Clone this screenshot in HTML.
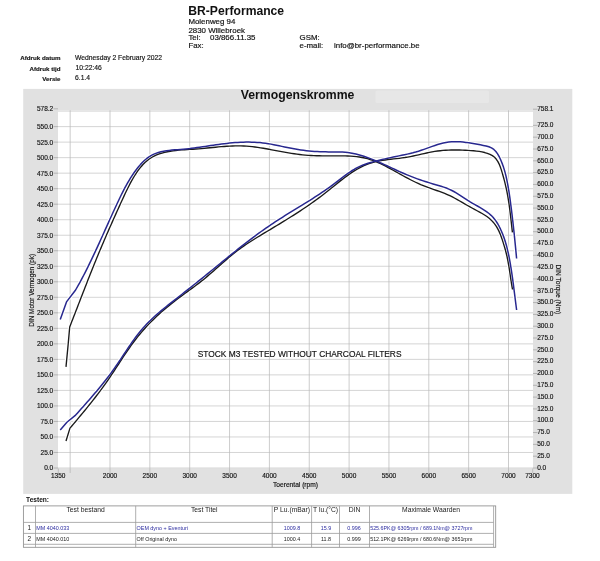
<!DOCTYPE html>
<html><head><meta charset="utf-8"><title>BR-Performance Vermogenskromme</title>
<style>
html,body{margin:0;padding:0;background:#fff;}
body{width:600px;height:561px;position:relative;overflow:hidden;font-family:"Liberation Sans",sans-serif;}
svg text{white-space:pre;}
</style></head><body>
<svg width="600" height="561" viewBox="0 0 600 561" style="position:absolute;left:0;top:0;filter:blur(0.4px)">
<rect x="23.2" y="88.9" width="549.1" height="405.0" fill="#e1e1e1"/>
<rect x="375.5" y="90.5" width="113.5" height="12.5" rx="1.5" fill="#e7e7e7"/>
<rect x="58.0" y="110.3" width="475.0" height="358.2" fill="#fff"/>
<path d="M70.16 110.3 V473.0 M110.00 110.3 V473.0 M149.85 110.3 V473.0 M189.70 110.3 V473.0 M229.56 110.3 V473.0 M269.40 110.3 V473.0 M309.25 110.3 V473.0 M349.10 110.3 V473.0 M388.95 110.3 V473.0 M428.80 110.3 V473.0 M468.65 110.3 V473.0 M508.50 110.3 V473.0" stroke="#a9a9a9" stroke-width="0.6" fill="none"/>
<path d="M58.0 468.00 H533.0 M58.0 452.48 H533.0 M58.0 436.96 H533.0 M58.0 421.45 H533.0 M58.0 405.93 H533.0 M58.0 390.41 H533.0 M58.0 374.89 H533.0 M58.0 359.38 H533.0 M58.0 343.86 H533.0 M58.0 328.34 H533.0 M58.0 312.82 H533.0 M58.0 297.31 H533.0 M58.0 281.79 H533.0 M58.0 266.27 H533.0 M58.0 250.75 H533.0 M58.0 235.24 H533.0 M58.0 219.72 H533.0 M58.0 204.20 H533.0 M58.0 188.69 H533.0 M58.0 173.17 H533.0 M58.0 157.65 H533.0 M58.0 142.13 H533.0 M58.0 126.62 H533.0 M58.0 111.10 H533.0" stroke="#b8b8b8" stroke-width="0.6" fill="none"/>
<path d="M53.5 468.00 H58.0 M53.5 452.48 H58.0 M53.5 436.96 H58.0 M53.5 421.45 H58.0 M53.5 405.93 H58.0 M53.5 390.41 H58.0 M53.5 374.89 H58.0 M53.5 359.38 H58.0 M53.5 343.86 H58.0 M53.5 328.34 H58.0 M53.5 312.82 H58.0 M53.5 297.31 H58.0 M53.5 281.79 H58.0 M53.5 266.27 H58.0 M53.5 250.75 H58.0 M53.5 235.24 H58.0 M53.5 219.72 H58.0 M53.5 204.20 H58.0 M53.5 188.69 H58.0 M53.5 173.17 H58.0 M53.5 157.65 H58.0 M53.5 142.13 H58.0 M53.5 126.62 H58.0 M53.5 108.80 H58.0" stroke="#a8a8a8" stroke-width="0.8" fill="none"/>
<path d="M58.3 468.5 V473.0 M532.7 468.5 V473.0" stroke="#bdbdbd" stroke-width="1" fill="none"/>
<path d="M533.0 468.00 h4.5 M533.0 456.19 h4.5 M533.0 444.37 h4.5 M533.0 432.56 h4.5 M533.0 420.74 h4.5 M533.0 408.93 h4.5 M533.0 397.11 h4.5 M533.0 385.30 h4.5 M533.0 373.48 h4.5 M533.0 361.66 h4.5 M533.0 349.85 h4.5 M533.0 338.03 h4.5 M533.0 326.22 h4.5 M533.0 314.40 h4.5 M533.0 302.59 h4.5 M533.0 290.77 h4.5 M533.0 278.96 h4.5 M533.0 267.14 h4.5 M533.0 255.33 h4.5 M533.0 243.51 h4.5 M533.0 231.70 h4.5 M533.0 219.88 h4.5 M533.0 208.07 h4.5 M533.0 196.25 h4.5 M533.0 184.44 h4.5 M533.0 172.62 h4.5 M533.0 160.81 h4.5 M533.0 149.00 h4.5 M533.0 137.18 h4.5 M533.0 125.37 h4.5 M533.0 109.20 h4.5" stroke="#a8a8a8" stroke-width="0.8" fill="none"/>
<g clip-path="none">
<path d="M66.00 366.90 L68.10 345.00 L69.72 326.89 L70.76 324.25 L71.79 321.61 L72.82 318.97 L73.85 316.33 L74.87 313.69 L75.90 311.05 L76.92 308.40 L77.94 305.76 L78.96 303.12 L79.99 300.48 L81.01 297.84 L82.03 295.20 L83.06 292.56 L84.09 289.92 L85.11 287.28 L86.14 284.65 L87.18 282.01 L88.21 279.37 L89.25 276.74 L90.30 274.11 L91.34 271.48 L92.40 268.85 L93.45 266.22 L94.51 263.59 L95.58 260.97 L96.65 258.35 L97.73 255.73 L98.82 253.11 L99.91 250.49 L101.01 247.88 L102.11 245.26 L103.22 242.66 L104.34 240.05 L105.46 237.44 L106.59 234.84 L107.72 232.24 L108.86 229.64 L110.00 227.05 L111.15 224.45 L112.30 221.86 L113.45 219.28 L114.61 216.69 L115.77 214.11 L116.93 211.53 L118.10 208.95 L119.27 206.38 L120.44 203.80 L121.62 201.24 L122.80 198.67 L123.98 196.11 L125.17 193.55 L126.39 191.00 L127.63 188.46 L128.90 185.94 L130.21 183.43 L131.57 180.94 L132.98 178.46 L134.46 176.01 L136.00 173.59 L137.61 171.22 L139.31 168.91 L141.10 166.69 L142.98 164.56 L144.96 162.56 L147.06 160.70 L149.27 159.00 L151.60 157.47 L154.07 156.12 L156.63 154.95 L159.27 153.95 L161.97 153.08 L164.70 152.35 L167.46 151.74 L170.24 151.23 L173.04 150.81 L175.85 150.46 L178.68 150.18 L181.51 149.95 L184.36 149.75 L187.21 149.57 L190.06 149.41 L192.91 149.23 L195.76 149.04 L198.61 148.82 L201.45 148.57 L204.29 148.31 L207.12 148.04 L209.94 147.76 L212.77 147.48 L215.59 147.21 L218.41 146.95 L221.23 146.70 L224.04 146.48 L226.85 146.28 L229.66 146.12 L232.47 145.99 L235.28 145.91 L238.09 145.88 L240.90 145.90 L243.71 145.98 L246.52 146.14 L249.33 146.36 L252.14 146.64 L254.95 146.98 L257.76 147.37 L260.57 147.80 L263.38 148.26 L266.19 148.75 L268.99 149.27 L271.79 149.79 L274.59 150.32 L277.39 150.86 L280.19 151.38 L282.98 151.90 L285.78 152.41 L288.57 152.89 L291.36 153.35 L294.16 153.78 L296.95 154.18 L299.74 154.53 L302.54 154.84 L305.34 155.10 L308.13 155.31 L310.94 155.48 L313.74 155.61 L316.55 155.71 L319.37 155.78 L322.19 155.83 L325.02 155.86 L327.85 155.87 L330.70 155.88 L333.55 155.87 L336.42 155.87 L339.29 155.87 L342.17 155.89 L345.04 155.94 L347.92 156.03 L350.78 156.17 L353.63 156.37 L356.46 156.65 L359.26 157.01 L362.05 157.47 L364.80 158.03 L367.51 158.71 L370.19 159.52 L372.84 160.43 L375.45 161.43 L378.04 162.53 L380.60 163.70 L383.14 164.93 L385.66 166.21 L388.17 167.54 L390.66 168.89 L393.15 170.26 L395.62 171.64 L398.10 173.02 L400.57 174.39 L403.04 175.76 L405.52 177.11 L408.02 178.44 L410.52 179.74 L413.04 181.01 L415.57 182.25 L418.13 183.44 L420.72 184.58 L423.33 185.66 L425.97 186.69 L428.64 187.67 L431.33 188.62 L434.02 189.55 L436.71 190.49 L439.39 191.43 L442.05 192.41 L444.69 193.44 L447.29 194.53 L449.85 195.70 L452.37 196.95 L454.84 198.26 L457.30 199.63 L459.74 201.02 L462.18 202.43 L464.62 203.84 L467.08 205.24 L469.55 206.63 L472.03 208.01 L474.54 209.38 L477.07 210.74 L479.60 212.11 L482.11 213.52 L484.57 214.99 L486.94 216.56 L489.18 218.27 L491.27 220.14 L493.19 222.16 L494.94 224.33 L496.51 226.64 L497.91 229.08 L499.16 231.62 L500.28 234.24 L501.30 236.92 L502.23 239.64 L503.11 242.37 L503.95 245.09 L504.76 247.81 L505.52 250.52 L506.23 253.25 L506.89 255.98 L507.48 258.74 L508.03 261.51 L508.53 264.29 L508.99 267.09 L509.43 269.89 L509.85 272.70 L510.27 275.51 L510.68 278.32 L511.10 281.13 L511.54 283.93 L512.00 286.72 L512.50 289.50" fill="none" stroke="#fff" stroke-width="3.6" stroke-linejoin="round" stroke-linecap="butt"/>
<path d="M66.00 441.00 L69.98 428.11 L71.80 425.98 L73.60 423.84 L75.41 421.70 L77.21 419.57 L79.00 417.43 L80.79 415.29 L82.57 413.14 L84.35 411.00 L86.11 408.84 L87.86 406.69 L89.61 404.52 L91.34 402.35 L93.07 400.17 L94.78 397.98 L96.48 395.78 L98.16 393.57 L99.84 391.35 L101.50 389.12 L103.14 386.88 L104.77 384.62 L106.38 382.35 L107.97 380.07 L109.55 377.77 L111.11 375.45 L112.66 373.13 L114.20 370.79 L115.73 368.45 L117.26 366.11 L118.79 363.77 L120.32 361.42 L121.86 359.08 L123.40 356.75 L124.95 354.42 L126.51 352.10 L128.09 349.80 L129.68 347.51 L131.30 345.23 L132.94 342.98 L134.60 340.75 L136.30 338.55 L138.02 336.37 L139.78 334.22 L141.57 332.09 L143.39 330.00 L145.25 327.93 L147.13 325.89 L149.05 323.88 L150.99 321.89 L152.96 319.93 L154.95 318.00 L156.97 316.09 L159.02 314.20 L161.09 312.34 L163.18 310.51 L165.29 308.69 L167.43 306.90 L169.59 305.13 L171.76 303.39 L173.96 301.67 L176.17 299.97 L178.39 298.28 L180.63 296.62 L182.88 294.96 L185.14 293.31 L187.39 291.67 L189.65 290.02 L191.90 288.37 L194.14 286.71 L196.37 285.04 L198.59 283.36 L200.79 281.65 L202.97 279.92 L205.13 278.16 L207.27 276.37 L209.38 274.57 L211.49 272.75 L213.58 270.92 L215.67 269.07 L217.75 267.23 L219.83 265.38 L221.91 263.54 L224.00 261.70 L226.10 259.87 L228.22 258.06 L230.35 256.27 L232.50 254.51 L234.67 252.77 L236.87 251.06 L239.10 249.39 L241.35 247.75 L243.64 246.14 L245.95 244.56 L248.27 243.01 L250.62 241.49 L252.98 239.98 L255.36 238.49 L257.74 237.02 L260.13 235.56 L262.52 234.11 L264.92 232.67 L267.31 231.23 L269.70 229.80 L272.09 228.36 L274.47 226.93 L276.85 225.49 L279.22 224.05 L281.59 222.61 L283.95 221.17 L286.30 219.71 L288.66 218.25 L291.00 216.79 L293.34 215.31 L295.67 213.82 L298.00 212.32 L300.31 210.81 L302.62 209.29 L304.93 207.75 L307.22 206.19 L309.51 204.62 L311.79 203.03 L314.05 201.41 L316.31 199.78 L318.56 198.13 L320.81 196.45 L323.04 194.75 L325.26 193.02 L327.47 191.27 L329.67 189.50 L331.87 187.72 L334.07 185.94 L336.27 184.16 L338.48 182.40 L340.70 180.65 L342.92 178.93 L345.16 177.23 L347.42 175.58 L349.69 173.98 L351.99 172.43 L354.32 170.93 L356.67 169.51 L359.06 168.16 L361.48 166.90 L363.93 165.72 L366.43 164.64 L368.97 163.66 L371.56 162.79 L374.19 162.04 L376.88 161.40 L379.60 160.85 L382.35 160.37 L385.14 159.96 L387.94 159.60 L390.76 159.27 L393.59 158.95 L396.42 158.63 L399.25 158.30 L402.06 157.94 L404.87 157.53 L407.65 157.06 L410.41 156.54 L413.16 155.98 L415.89 155.39 L418.61 154.79 L421.32 154.17 L424.02 153.57 L426.72 152.98 L429.42 152.42 L432.12 151.91 L434.82 151.44 L437.53 151.04 L440.25 150.71 L442.98 150.45 L445.71 150.25 L448.45 150.10 L451.20 150.01 L453.97 149.97 L456.74 149.98 L459.52 150.02 L462.31 150.11 L465.11 150.23 L467.92 150.39 L470.75 150.56 L473.58 150.78 L476.40 151.05 L479.21 151.42 L481.98 151.90 L484.71 152.53 L487.38 153.34 L489.97 154.36 L492.39 155.64 L494.55 157.27 L496.37 159.28 L497.90 161.58 L499.17 164.09 L500.24 166.71 L501.16 169.39 L501.99 172.10 L502.78 174.80 L503.54 177.49 L504.26 180.17 L504.95 182.86 L505.59 185.55 L506.20 188.26 L506.77 190.97 L507.30 193.70 L507.79 196.44 L508.26 199.19 L508.69 201.94 L509.10 204.70 L509.48 207.47 L509.84 210.24 L510.19 213.02 L510.53 215.79 L510.85 218.57 L511.17 221.34 L511.48 224.11 L511.79 226.87 L512.10 229.64 L512.42 232.39" fill="none" stroke="#fff" stroke-width="3.6" stroke-linejoin="round" stroke-linecap="butt"/>
<path d="M60.25 319.40 L66.50 301.90 L75.60 290.00 L78.48 284.95 L79.81 282.55 L81.12 280.13 L82.41 277.70 L83.69 275.26 L84.95 272.81 L86.20 270.35 L87.44 267.88 L88.67 265.41 L89.88 262.92 L91.09 260.43 L92.28 257.93 L93.47 255.42 L94.65 252.91 L95.82 250.39 L96.99 247.87 L98.14 245.35 L99.30 242.82 L100.45 240.29 L101.59 237.76 L102.73 235.23 L103.88 232.70 L105.01 230.16 L106.15 227.63 L107.29 225.10 L108.43 222.57 L109.57 220.04 L110.71 217.52 L111.86 215.00 L113.00 212.48 L114.16 209.97 L115.32 207.46 L116.48 204.96 L117.65 202.47 L118.83 199.99 L120.01 197.51 L121.21 195.04 L122.43 192.59 L123.67 190.14 L124.95 187.71 L126.25 185.30 L127.59 182.91 L128.98 180.53 L130.42 178.18 L131.92 175.85 L133.47 173.54 L135.09 171.26 L136.78 169.01 L138.55 166.79 L140.39 164.62 L142.32 162.53 L144.34 160.55 L146.45 158.71 L148.65 157.06 L150.94 155.61 L153.33 154.37 L155.81 153.34 L158.37 152.49 L160.99 151.79 L163.66 151.22 L166.39 150.77 L169.15 150.41 L171.94 150.11 L174.75 149.87 L177.57 149.65 L180.39 149.43 L183.20 149.19 L185.99 148.93 L188.77 148.63 L191.53 148.30 L194.28 147.95 L197.02 147.59 L199.75 147.21 L202.47 146.81 L205.19 146.41 L207.90 146.01 L210.60 145.60 L213.31 145.20 L216.01 144.81 L218.72 144.43 L221.43 144.07 L224.14 143.72 L226.87 143.40 L229.59 143.10 L232.33 142.84 L235.08 142.61 L237.84 142.42 L240.60 142.27 L243.37 142.16 L246.14 142.10 L248.92 142.09 L251.70 142.14 L254.47 142.23 L257.24 142.39 L260.01 142.61 L262.76 142.89 L265.51 143.24 L268.25 143.66 L270.98 144.13 L273.71 144.65 L276.42 145.20 L279.13 145.78 L281.84 146.37 L284.55 146.95 L287.26 147.53 L289.97 148.08 L292.68 148.61 L295.39 149.10 L298.11 149.55 L300.83 149.96 L303.56 150.34 L306.29 150.68 L309.03 150.98 L311.78 151.24 L314.53 151.45 L317.29 151.62 L320.06 151.75 L322.84 151.83 L325.63 151.87 L328.43 151.88 L331.22 151.88 L334.02 151.89 L336.81 151.92 L339.59 151.99 L342.36 152.12 L345.12 152.32 L347.86 152.60 L350.57 153.00 L353.27 153.48 L355.94 154.06 L358.60 154.73 L361.24 155.47 L363.87 156.29 L366.48 157.17 L369.07 158.11 L371.65 159.10 L374.22 160.14 L376.79 161.22 L379.34 162.33 L381.88 163.46 L384.42 164.62 L386.95 165.79 L389.48 166.96 L392.00 168.14 L394.52 169.30 L397.04 170.46 L399.56 171.60 L402.09 172.71 L404.61 173.79 L407.14 174.86 L409.68 175.89 L412.22 176.90 L414.78 177.88 L417.35 178.83 L419.93 179.75 L422.52 180.65 L425.14 181.51 L427.77 182.34 L430.42 183.14 L433.09 183.91 L435.77 184.68 L438.44 185.46 L441.10 186.27 L443.74 187.13 L446.34 188.07 L448.89 189.10 L451.38 190.24 L453.81 191.51 L456.19 192.88 L458.53 194.33 L460.85 195.84 L463.15 197.37 L465.46 198.91 L467.78 200.42 L470.14 201.89 L472.54 203.29 L474.96 204.66 L477.39 206.01 L479.82 207.38 L482.21 208.79 L484.55 210.27 L486.83 211.85 L489.01 213.53 L491.08 215.34 L493.01 217.29 L494.77 219.40 L496.37 221.65 L497.84 224.01 L499.18 226.46 L500.42 228.95 L501.57 231.47 L502.63 234.03 L503.61 236.61 L504.52 239.21 L505.36 241.84 L506.14 244.49 L506.86 247.16 L507.52 249.85 L508.14 252.54 L508.71 255.25 L509.25 257.97 L509.76 260.69 L510.25 263.42 L510.71 266.14 L511.15 268.88 L511.57 271.61 L511.98 274.34 L512.37 277.08 L512.75 279.82 L513.12 282.56 L513.48 285.30 L513.83 288.04 L514.18 290.78 L514.52 293.53 L514.87 296.27 L515.21 299.02 L515.56 301.76 L515.91 304.51 L516.26 307.25 L516.63 310.00" fill="none" stroke="#fff" stroke-width="3.7" stroke-linejoin="round" stroke-linecap="butt"/>
<path d="M60.25 430.00 L66.90 422.25 L75.63 415.05 L77.57 412.89 L79.50 410.73 L81.43 408.57 L83.36 406.41 L85.28 404.24 L87.20 402.08 L89.10 399.91 L91.00 397.73 L92.89 395.55 L94.77 393.36 L96.63 391.16 L98.48 388.96 L100.32 386.74 L102.14 384.51 L103.94 382.26 L105.73 380.00 L107.50 377.72 L109.24 375.43 L110.97 373.11 L112.68 370.78 L114.36 368.43 L116.02 366.05 L117.66 363.66 L119.29 361.25 L120.90 358.83 L122.50 356.40 L124.11 353.97 L125.71 351.55 L127.32 349.13 L128.94 346.71 L130.58 344.32 L132.24 341.94 L133.92 339.58 L135.63 337.25 L137.37 334.95 L139.15 332.68 L140.97 330.46 L142.84 328.27 L144.76 326.13 L146.72 324.04 L148.73 321.99 L150.79 319.98 L152.88 318.01 L155.01 316.07 L157.17 314.16 L159.35 312.27 L161.56 310.41 L163.80 308.57 L166.04 306.75 L168.31 304.94 L170.58 303.14 L172.86 301.36 L175.14 299.57 L177.42 297.79 L179.70 296.00 L181.98 294.22 L184.25 292.43 L186.52 290.64 L188.78 288.85 L191.04 287.06 L193.30 285.26 L195.55 283.47 L197.81 281.66 L200.06 279.86 L202.31 278.05 L204.55 276.24 L206.79 274.43 L209.04 272.61 L211.27 270.79 L213.51 268.97 L215.75 267.14 L217.99 265.31 L220.23 263.49 L222.47 261.66 L224.71 259.83 L226.95 258.01 L229.19 256.19 L231.44 254.38 L233.69 252.56 L235.95 250.76 L238.21 248.96 L240.48 247.17 L242.75 245.38 L245.03 243.61 L247.31 241.84 L249.61 240.08 L251.91 238.34 L254.22 236.61 L256.54 234.89 L258.86 233.18 L261.20 231.49 L263.55 229.82 L265.91 228.16 L268.29 226.51 L270.67 224.89 L273.07 223.28 L275.48 221.70 L277.90 220.13 L280.34 218.57 L282.78 217.03 L285.23 215.49 L287.68 213.97 L290.14 212.45 L292.61 210.94 L295.07 209.43 L297.54 207.93 L300.01 206.42 L302.47 204.91 L304.93 203.39 L307.39 201.87 L309.84 200.34 L312.28 198.80 L314.72 197.24 L317.14 195.67 L319.56 194.09 L321.96 192.48 L324.34 190.86 L326.71 189.21 L329.07 187.54 L331.40 185.85 L333.72 184.12 L336.02 182.37 L338.31 180.60 L340.59 178.84 L342.88 177.08 L345.19 175.36 L347.52 173.68 L349.89 172.05 L352.30 170.50 L354.76 169.03 L357.28 167.66 L359.88 166.41 L362.54 165.27 L365.25 164.23 L368.02 163.29 L370.81 162.42 L373.63 161.62 L376.47 160.87 L379.30 160.17 L382.12 159.50 L384.93 158.86 L387.73 158.24 L390.53 157.63 L393.32 157.04 L396.12 156.46 L398.91 155.89 L401.71 155.32 L404.51 154.74 L407.31 154.13 L410.11 153.49 L412.90 152.80 L415.68 152.04 L418.46 151.21 L421.22 150.31 L423.97 149.36 L426.71 148.37 L429.45 147.38 L432.20 146.41 L434.94 145.47 L437.69 144.58 L440.44 143.78 L443.21 143.07 L445.99 142.49 L448.78 142.06 L451.60 141.78 L454.42 141.66 L457.27 141.67 L460.13 141.81 L462.99 142.05 L465.87 142.38 L468.76 142.78 L471.65 143.25 L474.55 143.76 L477.44 144.30 L480.34 144.85 L483.24 145.41 L486.11 146.00 L488.89 146.78 L491.49 147.90 L493.84 149.49 L495.88 151.50 L497.59 153.83 L499.04 156.37 L500.32 159.01 L501.48 161.68 L502.53 164.39 L503.48 167.12 L504.34 169.87 L505.12 172.64 L505.83 175.44 L506.48 178.25 L507.07 181.07 L507.62 183.90 L508.14 186.74 L508.62 189.59 L509.08 192.45 L509.51 195.31 L509.92 198.17 L510.31 201.04 L510.69 203.91 L511.06 206.78 L511.43 209.65 L511.78 212.51 L512.13 215.38 L512.46 218.25 L512.80 221.13 L513.12 224.00 L513.44 226.87 L513.75 229.74 L514.06 232.61 L514.36 235.49 L514.65 238.36 L514.94 241.23 L515.23 244.11 L515.51 246.99 L515.79 249.86 L516.06 252.74 L516.33 255.62 L516.60 258.50" fill="none" stroke="#fff" stroke-width="3.7" stroke-linejoin="round" stroke-linecap="butt"/>
<path d="M66.00 366.90 L68.10 345.00 L69.72 326.89 L70.76 324.25 L71.79 321.61 L72.82 318.97 L73.85 316.33 L74.87 313.69 L75.90 311.05 L76.92 308.40 L77.94 305.76 L78.96 303.12 L79.99 300.48 L81.01 297.84 L82.03 295.20 L83.06 292.56 L84.09 289.92 L85.11 287.28 L86.14 284.65 L87.18 282.01 L88.21 279.37 L89.25 276.74 L90.30 274.11 L91.34 271.48 L92.40 268.85 L93.45 266.22 L94.51 263.59 L95.58 260.97 L96.65 258.35 L97.73 255.73 L98.82 253.11 L99.91 250.49 L101.01 247.88 L102.11 245.26 L103.22 242.66 L104.34 240.05 L105.46 237.44 L106.59 234.84 L107.72 232.24 L108.86 229.64 L110.00 227.05 L111.15 224.45 L112.30 221.86 L113.45 219.28 L114.61 216.69 L115.77 214.11 L116.93 211.53 L118.10 208.95 L119.27 206.38 L120.44 203.80 L121.62 201.24 L122.80 198.67 L123.98 196.11 L125.17 193.55 L126.39 191.00 L127.63 188.46 L128.90 185.94 L130.21 183.43 L131.57 180.94 L132.98 178.46 L134.46 176.01 L136.00 173.59 L137.61 171.22 L139.31 168.91 L141.10 166.69 L142.98 164.56 L144.96 162.56 L147.06 160.70 L149.27 159.00 L151.60 157.47 L154.07 156.12 L156.63 154.95 L159.27 153.95 L161.97 153.08 L164.70 152.35 L167.46 151.74 L170.24 151.23 L173.04 150.81 L175.85 150.46 L178.68 150.18 L181.51 149.95 L184.36 149.75 L187.21 149.57 L190.06 149.41 L192.91 149.23 L195.76 149.04 L198.61 148.82 L201.45 148.57 L204.29 148.31 L207.12 148.04 L209.94 147.76 L212.77 147.48 L215.59 147.21 L218.41 146.95 L221.23 146.70 L224.04 146.48 L226.85 146.28 L229.66 146.12 L232.47 145.99 L235.28 145.91 L238.09 145.88 L240.90 145.90 L243.71 145.98 L246.52 146.14 L249.33 146.36 L252.14 146.64 L254.95 146.98 L257.76 147.37 L260.57 147.80 L263.38 148.26 L266.19 148.75 L268.99 149.27 L271.79 149.79 L274.59 150.32 L277.39 150.86 L280.19 151.38 L282.98 151.90 L285.78 152.41 L288.57 152.89 L291.36 153.35 L294.16 153.78 L296.95 154.18 L299.74 154.53 L302.54 154.84 L305.34 155.10 L308.13 155.31 L310.94 155.48 L313.74 155.61 L316.55 155.71 L319.37 155.78 L322.19 155.83 L325.02 155.86 L327.85 155.87 L330.70 155.88 L333.55 155.87 L336.42 155.87 L339.29 155.87 L342.17 155.89 L345.04 155.94 L347.92 156.03 L350.78 156.17 L353.63 156.37 L356.46 156.65 L359.26 157.01 L362.05 157.47 L364.80 158.03 L367.51 158.71 L370.19 159.52 L372.84 160.43 L375.45 161.43 L378.04 162.53 L380.60 163.70 L383.14 164.93 L385.66 166.21 L388.17 167.54 L390.66 168.89 L393.15 170.26 L395.62 171.64 L398.10 173.02 L400.57 174.39 L403.04 175.76 L405.52 177.11 L408.02 178.44 L410.52 179.74 L413.04 181.01 L415.57 182.25 L418.13 183.44 L420.72 184.58 L423.33 185.66 L425.97 186.69 L428.64 187.67 L431.33 188.62 L434.02 189.55 L436.71 190.49 L439.39 191.43 L442.05 192.41 L444.69 193.44 L447.29 194.53 L449.85 195.70 L452.37 196.95 L454.84 198.26 L457.30 199.63 L459.74 201.02 L462.18 202.43 L464.62 203.84 L467.08 205.24 L469.55 206.63 L472.03 208.01 L474.54 209.38 L477.07 210.74 L479.60 212.11 L482.11 213.52 L484.57 214.99 L486.94 216.56 L489.18 218.27 L491.27 220.14 L493.19 222.16 L494.94 224.33 L496.51 226.64 L497.91 229.08 L499.16 231.62 L500.28 234.24 L501.30 236.92 L502.23 239.64 L503.11 242.37 L503.95 245.09 L504.76 247.81 L505.52 250.52 L506.23 253.25 L506.89 255.98 L507.48 258.74 L508.03 261.51 L508.53 264.29 L508.99 267.09 L509.43 269.89 L509.85 272.70 L510.27 275.51 L510.68 278.32 L511.10 281.13 L511.54 283.93 L512.00 286.72 L512.50 289.50" fill="none" stroke="#1a1a1a" stroke-width="1.35" stroke-linejoin="round"/>
<path d="M66.00 441.00 L69.98 428.11 L71.80 425.98 L73.60 423.84 L75.41 421.70 L77.21 419.57 L79.00 417.43 L80.79 415.29 L82.57 413.14 L84.35 411.00 L86.11 408.84 L87.86 406.69 L89.61 404.52 L91.34 402.35 L93.07 400.17 L94.78 397.98 L96.48 395.78 L98.16 393.57 L99.84 391.35 L101.50 389.12 L103.14 386.88 L104.77 384.62 L106.38 382.35 L107.97 380.07 L109.55 377.77 L111.11 375.45 L112.66 373.13 L114.20 370.79 L115.73 368.45 L117.26 366.11 L118.79 363.77 L120.32 361.42 L121.86 359.08 L123.40 356.75 L124.95 354.42 L126.51 352.10 L128.09 349.80 L129.68 347.51 L131.30 345.23 L132.94 342.98 L134.60 340.75 L136.30 338.55 L138.02 336.37 L139.78 334.22 L141.57 332.09 L143.39 330.00 L145.25 327.93 L147.13 325.89 L149.05 323.88 L150.99 321.89 L152.96 319.93 L154.95 318.00 L156.97 316.09 L159.02 314.20 L161.09 312.34 L163.18 310.51 L165.29 308.69 L167.43 306.90 L169.59 305.13 L171.76 303.39 L173.96 301.67 L176.17 299.97 L178.39 298.28 L180.63 296.62 L182.88 294.96 L185.14 293.31 L187.39 291.67 L189.65 290.02 L191.90 288.37 L194.14 286.71 L196.37 285.04 L198.59 283.36 L200.79 281.65 L202.97 279.92 L205.13 278.16 L207.27 276.37 L209.38 274.57 L211.49 272.75 L213.58 270.92 L215.67 269.07 L217.75 267.23 L219.83 265.38 L221.91 263.54 L224.00 261.70 L226.10 259.87 L228.22 258.06 L230.35 256.27 L232.50 254.51 L234.67 252.77 L236.87 251.06 L239.10 249.39 L241.35 247.75 L243.64 246.14 L245.95 244.56 L248.27 243.01 L250.62 241.49 L252.98 239.98 L255.36 238.49 L257.74 237.02 L260.13 235.56 L262.52 234.11 L264.92 232.67 L267.31 231.23 L269.70 229.80 L272.09 228.36 L274.47 226.93 L276.85 225.49 L279.22 224.05 L281.59 222.61 L283.95 221.17 L286.30 219.71 L288.66 218.25 L291.00 216.79 L293.34 215.31 L295.67 213.82 L298.00 212.32 L300.31 210.81 L302.62 209.29 L304.93 207.75 L307.22 206.19 L309.51 204.62 L311.79 203.03 L314.05 201.41 L316.31 199.78 L318.56 198.13 L320.81 196.45 L323.04 194.75 L325.26 193.02 L327.47 191.27 L329.67 189.50 L331.87 187.72 L334.07 185.94 L336.27 184.16 L338.48 182.40 L340.70 180.65 L342.92 178.93 L345.16 177.23 L347.42 175.58 L349.69 173.98 L351.99 172.43 L354.32 170.93 L356.67 169.51 L359.06 168.16 L361.48 166.90 L363.93 165.72 L366.43 164.64 L368.97 163.66 L371.56 162.79 L374.19 162.04 L376.88 161.40 L379.60 160.85 L382.35 160.37 L385.14 159.96 L387.94 159.60 L390.76 159.27 L393.59 158.95 L396.42 158.63 L399.25 158.30 L402.06 157.94 L404.87 157.53 L407.65 157.06 L410.41 156.54 L413.16 155.98 L415.89 155.39 L418.61 154.79 L421.32 154.17 L424.02 153.57 L426.72 152.98 L429.42 152.42 L432.12 151.91 L434.82 151.44 L437.53 151.04 L440.25 150.71 L442.98 150.45 L445.71 150.25 L448.45 150.10 L451.20 150.01 L453.97 149.97 L456.74 149.98 L459.52 150.02 L462.31 150.11 L465.11 150.23 L467.92 150.39 L470.75 150.56 L473.58 150.78 L476.40 151.05 L479.21 151.42 L481.98 151.90 L484.71 152.53 L487.38 153.34 L489.97 154.36 L492.39 155.64 L494.55 157.27 L496.37 159.28 L497.90 161.58 L499.17 164.09 L500.24 166.71 L501.16 169.39 L501.99 172.10 L502.78 174.80 L503.54 177.49 L504.26 180.17 L504.95 182.86 L505.59 185.55 L506.20 188.26 L506.77 190.97 L507.30 193.70 L507.79 196.44 L508.26 199.19 L508.69 201.94 L509.10 204.70 L509.48 207.47 L509.84 210.24 L510.19 213.02 L510.53 215.79 L510.85 218.57 L511.17 221.34 L511.48 224.11 L511.79 226.87 L512.10 229.64 L512.42 232.39" fill="none" stroke="#1a1a1a" stroke-width="1.35" stroke-linejoin="round"/>
<path d="M60.25 319.40 L66.50 301.90 L75.60 290.00 L78.48 284.95 L79.81 282.55 L81.12 280.13 L82.41 277.70 L83.69 275.26 L84.95 272.81 L86.20 270.35 L87.44 267.88 L88.67 265.41 L89.88 262.92 L91.09 260.43 L92.28 257.93 L93.47 255.42 L94.65 252.91 L95.82 250.39 L96.99 247.87 L98.14 245.35 L99.30 242.82 L100.45 240.29 L101.59 237.76 L102.73 235.23 L103.88 232.70 L105.01 230.16 L106.15 227.63 L107.29 225.10 L108.43 222.57 L109.57 220.04 L110.71 217.52 L111.86 215.00 L113.00 212.48 L114.16 209.97 L115.32 207.46 L116.48 204.96 L117.65 202.47 L118.83 199.99 L120.01 197.51 L121.21 195.04 L122.43 192.59 L123.67 190.14 L124.95 187.71 L126.25 185.30 L127.59 182.91 L128.98 180.53 L130.42 178.18 L131.92 175.85 L133.47 173.54 L135.09 171.26 L136.78 169.01 L138.55 166.79 L140.39 164.62 L142.32 162.53 L144.34 160.55 L146.45 158.71 L148.65 157.06 L150.94 155.61 L153.33 154.37 L155.81 153.34 L158.37 152.49 L160.99 151.79 L163.66 151.22 L166.39 150.77 L169.15 150.41 L171.94 150.11 L174.75 149.87 L177.57 149.65 L180.39 149.43 L183.20 149.19 L185.99 148.93 L188.77 148.63 L191.53 148.30 L194.28 147.95 L197.02 147.59 L199.75 147.21 L202.47 146.81 L205.19 146.41 L207.90 146.01 L210.60 145.60 L213.31 145.20 L216.01 144.81 L218.72 144.43 L221.43 144.07 L224.14 143.72 L226.87 143.40 L229.59 143.10 L232.33 142.84 L235.08 142.61 L237.84 142.42 L240.60 142.27 L243.37 142.16 L246.14 142.10 L248.92 142.09 L251.70 142.14 L254.47 142.23 L257.24 142.39 L260.01 142.61 L262.76 142.89 L265.51 143.24 L268.25 143.66 L270.98 144.13 L273.71 144.65 L276.42 145.20 L279.13 145.78 L281.84 146.37 L284.55 146.95 L287.26 147.53 L289.97 148.08 L292.68 148.61 L295.39 149.10 L298.11 149.55 L300.83 149.96 L303.56 150.34 L306.29 150.68 L309.03 150.98 L311.78 151.24 L314.53 151.45 L317.29 151.62 L320.06 151.75 L322.84 151.83 L325.63 151.87 L328.43 151.88 L331.22 151.88 L334.02 151.89 L336.81 151.92 L339.59 151.99 L342.36 152.12 L345.12 152.32 L347.86 152.60 L350.57 153.00 L353.27 153.48 L355.94 154.06 L358.60 154.73 L361.24 155.47 L363.87 156.29 L366.48 157.17 L369.07 158.11 L371.65 159.10 L374.22 160.14 L376.79 161.22 L379.34 162.33 L381.88 163.46 L384.42 164.62 L386.95 165.79 L389.48 166.96 L392.00 168.14 L394.52 169.30 L397.04 170.46 L399.56 171.60 L402.09 172.71 L404.61 173.79 L407.14 174.86 L409.68 175.89 L412.22 176.90 L414.78 177.88 L417.35 178.83 L419.93 179.75 L422.52 180.65 L425.14 181.51 L427.77 182.34 L430.42 183.14 L433.09 183.91 L435.77 184.68 L438.44 185.46 L441.10 186.27 L443.74 187.13 L446.34 188.07 L448.89 189.10 L451.38 190.24 L453.81 191.51 L456.19 192.88 L458.53 194.33 L460.85 195.84 L463.15 197.37 L465.46 198.91 L467.78 200.42 L470.14 201.89 L472.54 203.29 L474.96 204.66 L477.39 206.01 L479.82 207.38 L482.21 208.79 L484.55 210.27 L486.83 211.85 L489.01 213.53 L491.08 215.34 L493.01 217.29 L494.77 219.40 L496.37 221.65 L497.84 224.01 L499.18 226.46 L500.42 228.95 L501.57 231.47 L502.63 234.03 L503.61 236.61 L504.52 239.21 L505.36 241.84 L506.14 244.49 L506.86 247.16 L507.52 249.85 L508.14 252.54 L508.71 255.25 L509.25 257.97 L509.76 260.69 L510.25 263.42 L510.71 266.14 L511.15 268.88 L511.57 271.61 L511.98 274.34 L512.37 277.08 L512.75 279.82 L513.12 282.56 L513.48 285.30 L513.83 288.04 L514.18 290.78 L514.52 293.53 L514.87 296.27 L515.21 299.02 L515.56 301.76 L515.91 304.51 L516.26 307.25 L516.63 310.00" fill="none" stroke="#28288f" stroke-width="1.50" stroke-linejoin="round"/>
<path d="M60.25 430.00 L66.90 422.25 L75.63 415.05 L77.57 412.89 L79.50 410.73 L81.43 408.57 L83.36 406.41 L85.28 404.24 L87.20 402.08 L89.10 399.91 L91.00 397.73 L92.89 395.55 L94.77 393.36 L96.63 391.16 L98.48 388.96 L100.32 386.74 L102.14 384.51 L103.94 382.26 L105.73 380.00 L107.50 377.72 L109.24 375.43 L110.97 373.11 L112.68 370.78 L114.36 368.43 L116.02 366.05 L117.66 363.66 L119.29 361.25 L120.90 358.83 L122.50 356.40 L124.11 353.97 L125.71 351.55 L127.32 349.13 L128.94 346.71 L130.58 344.32 L132.24 341.94 L133.92 339.58 L135.63 337.25 L137.37 334.95 L139.15 332.68 L140.97 330.46 L142.84 328.27 L144.76 326.13 L146.72 324.04 L148.73 321.99 L150.79 319.98 L152.88 318.01 L155.01 316.07 L157.17 314.16 L159.35 312.27 L161.56 310.41 L163.80 308.57 L166.04 306.75 L168.31 304.94 L170.58 303.14 L172.86 301.36 L175.14 299.57 L177.42 297.79 L179.70 296.00 L181.98 294.22 L184.25 292.43 L186.52 290.64 L188.78 288.85 L191.04 287.06 L193.30 285.26 L195.55 283.47 L197.81 281.66 L200.06 279.86 L202.31 278.05 L204.55 276.24 L206.79 274.43 L209.04 272.61 L211.27 270.79 L213.51 268.97 L215.75 267.14 L217.99 265.31 L220.23 263.49 L222.47 261.66 L224.71 259.83 L226.95 258.01 L229.19 256.19 L231.44 254.38 L233.69 252.56 L235.95 250.76 L238.21 248.96 L240.48 247.17 L242.75 245.38 L245.03 243.61 L247.31 241.84 L249.61 240.08 L251.91 238.34 L254.22 236.61 L256.54 234.89 L258.86 233.18 L261.20 231.49 L263.55 229.82 L265.91 228.16 L268.29 226.51 L270.67 224.89 L273.07 223.28 L275.48 221.70 L277.90 220.13 L280.34 218.57 L282.78 217.03 L285.23 215.49 L287.68 213.97 L290.14 212.45 L292.61 210.94 L295.07 209.43 L297.54 207.93 L300.01 206.42 L302.47 204.91 L304.93 203.39 L307.39 201.87 L309.84 200.34 L312.28 198.80 L314.72 197.24 L317.14 195.67 L319.56 194.09 L321.96 192.48 L324.34 190.86 L326.71 189.21 L329.07 187.54 L331.40 185.85 L333.72 184.12 L336.02 182.37 L338.31 180.60 L340.59 178.84 L342.88 177.08 L345.19 175.36 L347.52 173.68 L349.89 172.05 L352.30 170.50 L354.76 169.03 L357.28 167.66 L359.88 166.41 L362.54 165.27 L365.25 164.23 L368.02 163.29 L370.81 162.42 L373.63 161.62 L376.47 160.87 L379.30 160.17 L382.12 159.50 L384.93 158.86 L387.73 158.24 L390.53 157.63 L393.32 157.04 L396.12 156.46 L398.91 155.89 L401.71 155.32 L404.51 154.74 L407.31 154.13 L410.11 153.49 L412.90 152.80 L415.68 152.04 L418.46 151.21 L421.22 150.31 L423.97 149.36 L426.71 148.37 L429.45 147.38 L432.20 146.41 L434.94 145.47 L437.69 144.58 L440.44 143.78 L443.21 143.07 L445.99 142.49 L448.78 142.06 L451.60 141.78 L454.42 141.66 L457.27 141.67 L460.13 141.81 L462.99 142.05 L465.87 142.38 L468.76 142.78 L471.65 143.25 L474.55 143.76 L477.44 144.30 L480.34 144.85 L483.24 145.41 L486.11 146.00 L488.89 146.78 L491.49 147.90 L493.84 149.49 L495.88 151.50 L497.59 153.83 L499.04 156.37 L500.32 159.01 L501.48 161.68 L502.53 164.39 L503.48 167.12 L504.34 169.87 L505.12 172.64 L505.83 175.44 L506.48 178.25 L507.07 181.07 L507.62 183.90 L508.14 186.74 L508.62 189.59 L509.08 192.45 L509.51 195.31 L509.92 198.17 L510.31 201.04 L510.69 203.91 L511.06 206.78 L511.43 209.65 L511.78 212.51 L512.13 215.38 L512.46 218.25 L512.80 221.13 L513.12 224.00 L513.44 226.87 L513.75 229.74 L514.06 232.61 L514.36 235.49 L514.65 238.36 L514.94 241.23 L515.23 244.11 L515.51 246.99 L515.79 249.86 L516.06 252.74 L516.33 255.62 L516.60 258.50" fill="none" stroke="#28288f" stroke-width="1.50" stroke-linejoin="round"/>
</g>
<g font-family="'Liberation Sans', sans-serif" font-size="6.5" fill="#111" stroke="#111" stroke-width="0.15">
<text x="53.2" y="111.05" text-anchor="end">578.2</text>
<text x="53.2" y="129.06" text-anchor="end">550.0</text>
<text x="53.2" y="144.58" text-anchor="end">525.0</text>
<text x="53.2" y="160.10" text-anchor="end">500.0</text>
<text x="53.2" y="175.62" text-anchor="end">475.0</text>
<text x="53.2" y="191.13" text-anchor="end">450.0</text>
<text x="53.2" y="206.65" text-anchor="end">425.0</text>
<text x="53.2" y="222.17" text-anchor="end">400.0</text>
<text x="53.2" y="237.69" text-anchor="end">375.0</text>
<text x="53.2" y="253.20" text-anchor="end">350.0</text>
<text x="53.2" y="268.72" text-anchor="end">325.0</text>
<text x="53.2" y="284.24" text-anchor="end">300.0</text>
<text x="53.2" y="299.76" text-anchor="end">275.0</text>
<text x="53.2" y="315.27" text-anchor="end">250.0</text>
<text x="53.2" y="330.79" text-anchor="end">225.0</text>
<text x="53.2" y="346.31" text-anchor="end">200.0</text>
<text x="53.2" y="361.83" text-anchor="end">175.0</text>
<text x="53.2" y="377.34" text-anchor="end">150.0</text>
<text x="53.2" y="392.86" text-anchor="end">125.0</text>
<text x="53.2" y="408.38" text-anchor="end">100.0</text>
<text x="53.2" y="423.90" text-anchor="end">75.0</text>
<text x="53.2" y="439.41" text-anchor="end">50.0</text>
<text x="53.2" y="454.93" text-anchor="end">25.0</text>
<text x="53.2" y="470.45" text-anchor="end">0.0</text>
<text x="537.2" y="110.95">758.1</text>
<text x="537.2" y="127.12">725.0</text>
<text x="537.2" y="138.93">700.0</text>
<text x="537.2" y="150.75">675.0</text>
<text x="537.2" y="162.56">650.0</text>
<text x="537.2" y="174.38">625.0</text>
<text x="537.2" y="186.19">600.0</text>
<text x="537.2" y="198.00">575.0</text>
<text x="537.2" y="209.82">550.0</text>
<text x="537.2" y="221.63">525.0</text>
<text x="537.2" y="233.45">500.0</text>
<text x="537.2" y="245.26">475.0</text>
<text x="537.2" y="257.08">450.0</text>
<text x="537.2" y="268.89">425.0</text>
<text x="537.2" y="280.71">400.0</text>
<text x="537.2" y="292.52">375.0</text>
<text x="537.2" y="304.34">350.0</text>
<text x="537.2" y="316.15">325.0</text>
<text x="537.2" y="327.97">300.0</text>
<text x="537.2" y="339.78">275.0</text>
<text x="537.2" y="351.60">250.0</text>
<text x="537.2" y="363.41">225.0</text>
<text x="537.2" y="375.23">200.0</text>
<text x="537.2" y="387.05">175.0</text>
<text x="537.2" y="398.86">150.0</text>
<text x="537.2" y="410.68">125.0</text>
<text x="537.2" y="422.49">100.0</text>
<text x="537.2" y="434.31">75.0</text>
<text x="537.2" y="446.12">50.0</text>
<text x="537.2" y="457.94">25.0</text>
<text x="537.2" y="469.75">0.0</text>
<text x="58.20" y="478.35" text-anchor="middle">1350</text>
<text x="110.00" y="478.35" text-anchor="middle">2000</text>
<text x="149.85" y="478.35" text-anchor="middle">2500</text>
<text x="189.70" y="478.35" text-anchor="middle">3000</text>
<text x="229.56" y="478.35" text-anchor="middle">3500</text>
<text x="269.40" y="478.35" text-anchor="middle">4000</text>
<text x="309.25" y="478.35" text-anchor="middle">4500</text>
<text x="349.10" y="478.35" text-anchor="middle">5000</text>
<text x="388.95" y="478.35" text-anchor="middle">5500</text>
<text x="428.80" y="478.35" text-anchor="middle">6000</text>
<text x="468.65" y="478.35" text-anchor="middle">6500</text>
<text x="508.50" y="478.35" text-anchor="middle">7000</text>
<text x="532.41" y="478.35" text-anchor="middle">7300</text>
<text x="295.5" y="487.3" text-anchor="middle" font-size="6.65">Toerental (rpm)</text>
<text transform="translate(33.5 290.3) rotate(-90)" text-anchor="middle" font-size="6.4">DIN Motor Vermogen (pk)</text>
<text transform="translate(556.0 289.3) rotate(90)" text-anchor="middle" font-size="6.6">DIN Torque (Nm)</text>
</g>
<text x="297.6" y="99.3" text-anchor="middle" font-family="'Liberation Sans', sans-serif" font-weight="bold" font-size="12.25" fill="#111">Vermogenskromme</text>
<text x="197.7" y="357.3" font-family="'Liberation Sans', sans-serif" font-size="8.4" fill="#111" stroke="#111" stroke-width="0.15">STOCK M3 TESTED WITHOUT CHARCOAL FILTERS</text>
<g font-family="'Liberation Sans', sans-serif" fill="#111">
<text x="188.3" y="14.8" font-weight="bold" font-size="12.15">BR-Performance</text>
<g font-size="7.9" stroke="#111" stroke-width="0.18">
<text x="188.4" y="24.2">Molenweg 94</text>
<text x="188.4" y="33.3">2830 Willebroek</text>
<text x="188.4" y="40.35">Tel:</text><text x="210" y="40.35">03/866.11.35</text>
<text x="188.4" y="47.9">Fax:</text>
<text x="299.5" y="40.35">GSM:</text>
<text x="299.5" y="47.9">e-mail:</text><text x="334" y="47.9">info@br-performance.be</text>
</g>
<g font-size="6.2" font-weight="bold" text-anchor="end" stroke="#111" stroke-width="0.15">
<text x="60.5" y="60.4">Afdruk datum</text><text x="60.5" y="70.7">Afdruk tijd</text><text x="60.5" y="80.9">Versie</text>
</g>
<g font-size="6.75" stroke="#111" stroke-width="0.15">
<text x="75" y="59.5">Wednesday 2 February 2022</text><text x="75.6" y="69.9">10:22:46</text><text x="75" y="79.6">6.1.4</text>
</g>
</g>
<g font-family="'Liberation Sans', sans-serif">
<text x="26.1" y="501.9" font-weight="bold" font-size="6.6" fill="#111">Testen:</text>
<rect x="23.4" y="505.9" width="472.3" height="41.4" fill="#fff" stroke="#8e8e8e" stroke-width="0.85"/>
<path d="M35.5 505.9 V547.3 M135.7 505.9 V547.3 M272.2 505.9 V547.3 M311.6 505.9 V547.3 M339.5 505.9 V547.3 M369.5 505.9 V547.3 M493.6 505.9 V547.3 M23.4 522.4 H493.6 M23.4 533.4 H493.6 M23.4 544.3 H493.6" stroke="#9a9a9a" stroke-width="0.8" fill="none"/>
<g font-size="6.75" fill="#1a1a1a" text-anchor="middle">
<text x="85.6" y="512">Test bestand</text><text x="204.2" y="512">Test Titel</text><text x="291.9" y="512">P Lu.(mBar)</text><text x="325.6" y="512">T lu.(°C)</text><text x="354.6" y="512">DIN</text><text x="431" y="512">Maximale Waarden</text>
<text x="29.3" y="530.1" font-size="6.4">1</text><text x="29.3" y="541.3" font-size="6.4">2</text>
</g>
<g font-size="5.4" fill="#2c2ca0">
<text x="36.2" y="529.8">MM 4040.033</text><text x="136.6" y="529.8">OEM dyno + Eventuri</text><text x="292" y="529.8" text-anchor="middle">1009.8</text><text x="326" y="529.8" text-anchor="middle">15.9</text><text x="354" y="529.8" text-anchor="middle">0.996</text><text x="370.2" y="529.8" font-size="5.33">525.6PK@ 6305rpm / 689.1Nm@ 3727rpm</text>
</g>
<g font-size="5.4" fill="#1a1a1a">
<text x="36.2" y="541">MM 4040.010</text><text x="136.6" y="541">Off Original dyno</text><text x="292" y="541" text-anchor="middle">1000.4</text><text x="326" y="541" text-anchor="middle">11.8</text><text x="354" y="541" text-anchor="middle">0.999</text><text x="370.2" y="541" font-size="5.33">512.1PK@ 6269rpm / 680.6Nm@ 3651rpm</text>
</g>
</g>
</svg>
</body></html>
